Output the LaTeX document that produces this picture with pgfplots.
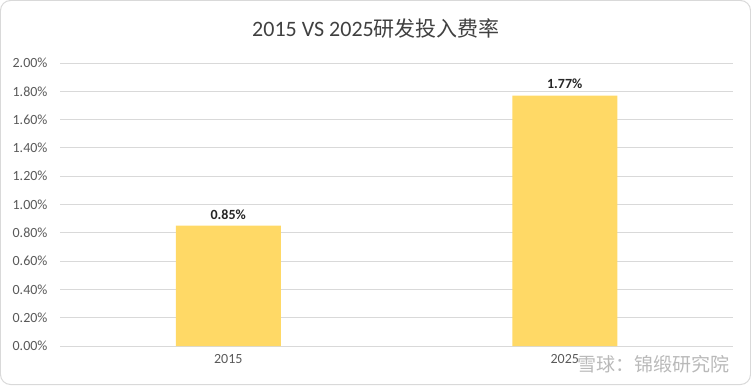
\documentclass[border=0pt]{standalone}
\usepackage{pgfplots}
\pgfplotsset{compat=1.18}
\usepackage{fontspec}
\setmainfont{Carlito}
\newfontfamily\cjk{Noto Sans CJK SC}
\definecolor{barc}{HTML}{FFD966}
\definecolor{gridc}{HTML}{D9D9D9}
\definecolor{txt}{HTML}{595959}
\begin{document}
\begin{tikzpicture}[x=1bp,y=1bp]
\draw[draw=gridc, line width=1bp, rounded corners=10bp] (0.5,0.5) rectangle (750.5,384.5);
\node[text=black!75, font=\fontsize{22bp}{26bp}\selectfont] at (376,357) {2015 VS 2025{\cjk\fontsize{21bp}{26bp}\selectfont 研发投入费率}};
\begin{axis}[
  at={(60bp,39bp)}, anchor=south west,
  scale only axis, width=673bp, height=283bp,
  ymin=0, ymax=2.0, xmin=-0.5, xmax=1.5,
  ytick={0,0.2,...,2.01},
  yticklabel={\pgfmathprintnumber[fixed,fixed zerofill,precision=2]{\tick}\%},
  /pgf/number format/assume math mode=true,
  xtick=data, xticklabels={2015,2025},
  ymajorgrids, grid style={gridc, line width=0.8bp},
  axis line style={draw=none},
  axis x line*=bottom,
  x axis line style={draw=gridc, line width=0.8bp},
  major tick length=0,
  tick label style={text=txt, font=\fontsize{14bp}{16bp}\selectfont},
  yticklabel style={xshift=-9bp},
  xticklabel style={yshift=-5bp},
  ybar, bar width=105bp,
  nodes near coords={\pgfmathprintnumber[fixed,fixed zerofill,precision=2]{\pgfplotspointmeta}\%},
  nodes near coords style={font=\bfseries\fontsize{14bp}{16bp}\selectfont, text=black!85, yshift=3bp},
]
\addplot[fill=barc, draw=none] coordinates {(0,0.85) (1,1.77)};
\end{axis}
\node[text=gray!55, font=\cjk\fontsize{19bp}{22bp}\selectfont, anchor=east] at (733,21) {雪球：锦缎研究院};
\end{tikzpicture}
\end{document}
